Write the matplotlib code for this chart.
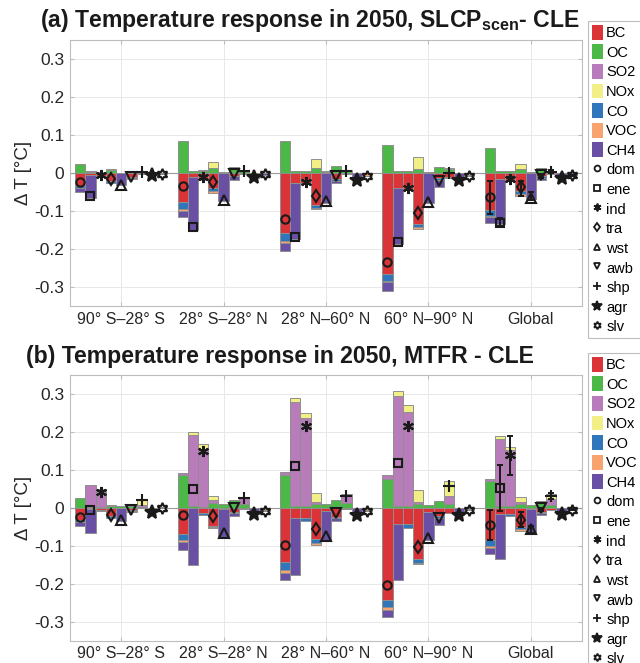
import numpy as np
import matplotlib
matplotlib.use("Agg")
import matplotlib.pyplot as plt
from matplotlib.patches import Patch
from matplotlib.lines import Line2D

plt.rcParams["font.family"] = ["Liberation Sans", "DejaVu Sans"]
plt.rcParams["mathtext.fontset"] = "custom"
plt.rcParams["mathtext.rm"] = "Liberation Sans"
plt.rcParams["mathtext.bf"] = "Liberation Sans:bold"

regions = ["90\u00b0 S\u201328\u00b0 S", "28\u00b0 S\u201328\u00b0 N",
           "28\u00b0 N\u201360\u00b0 N", "60\u00b0 N\u201390\u00b0 N", "Global"]
sectors = ["dom", "ene", "ind", "tra", "wst", "awb", "shp", "agr", "slv"]
species = ["BC", "OC", "SO2", "NOx", "CO", "VOC", "CH4"]
colors = ["#da3438", "#4cb848", "#b97cba", "#f2ef86", "#2f76bb", "#f7a46f", "#6a50a4"]

# panel (a): SLCPscen - CLE, rows = regions, columns = sectors
a_bc = [[-0.035, -0.004, -0.008, -0.022, 0, -0.010, -0.001, 0, -0.001],
        [-0.075, -0.010, -0.016, -0.039, 0, -0.007, -0.002, 0, 0],
        [-0.159, -0.025, -0.026, -0.083, 0, -0.017, -0.003, 0, 0],
        [-0.265, -0.040, -0.042, -0.134, 0, -0.014, -0.010, 0, 0],
        [-0.097, -0.015, -0.020, -0.048, 0, -0.009, -0.003, 0, 0]]
a_oc = [[0.025, 0.003, 0.003, 0.007, 0.001, 0.005, 0.002, 0, 0.001],
        [0.083, 0.006, 0.004, 0.013, 0.002, 0.015, 0.004, 0.001, 0.001],
        [0.084, 0.006, 0.004, 0.012, 0.003, 0.018, 0.009, 0, 0],
        [0.075, 0.006, 0.005, 0.011, 0.002, 0.017, 0.010, 0, 0],
        [0.067, 0.004, 0.004, 0.010, 0.003, 0.013, 0.005, 0, 0]]
a_so2 = [[0, 0.003, 0, 0, 0, 0, 0, 0, 0],
         [0, 0, 0.003, 0, 0, 0, 0, 0, 0],
         [0, 0, 0, 0, 0.003, 0, 0, 0, 0],
         [0, 0, 0, 0, 0, 0, 0, 0, 0],
         [0, 0, 0.002, 0, 0, 0, 0, 0, 0]]
a_nox = [[0, 0, 0, 0.003, 0, 0, 0.002, 0, 0],
         [0, 0, 0, 0.016, 0, 0, 0.002, 0, 0],
         [0, 0, 0, 0.024, 0, 0, 0, 0, 0],
         [0, 0, 0, 0.031, 0, 0, 0.002, 0, 0],
         [0, 0, 0, 0.015, 0, 0, 0.001, 0, 0]]
a_co = [[-0.004, 0, -0.001, -0.003, 0, -0.002, 0, 0, 0],
        [-0.020, 0, -0.002, -0.009, 0, -0.002, 0, 0, 0],
        [-0.019, 0, -0.001, -0.009, 0, -0.003, 0, 0, 0],
        [-0.018, 0, -0.002, -0.009, 0, -0.004, -0.002, 0, 0],
        [-0.015, 0, -0.002, -0.008, 0, -0.003, 0, 0, 0]]
a_voc = [[0, 0, 0, -0.001, 0, 0, 0, 0, -0.001],
         [-0.004, 0, 0, -0.004, 0, 0, 0, 0, -0.001],
         [-0.007, 0, 0, -0.004, 0, 0, 0, 0, -0.007],
         [-0.005, 0, 0, -0.005, 0, 0, 0, 0, -0.006],
         [-0.004, 0, 0, -0.005, 0, 0, 0, 0, -0.004]]
a_ch4 = [[-0.010, -0.062, 0, 0, -0.032, -0.003, -0.001, -0.004, -0.001],
         [-0.017, -0.139, 0, 0, -0.074, -0.009, 0, -0.012, -0.003],
         [-0.019, -0.149, 0, 0, -0.080, -0.006, 0, -0.018, 0],
         [-0.022, -0.147, 0, 0, -0.078, -0.020, 0, -0.019, -0.003],
         [-0.015, -0.120, 0, 0, -0.068, -0.007, 0, -0.014, -0.002]]
a_glob_lo = [-0.107, -0.140, -0.021, -0.061, -0.070, -0.013, -0.001, -0.017, -0.008]
a_glob_hi = [-0.021, -0.118, -0.011, -0.022, -0.050, -0.003, 0.007, -0.011, -0.004]

# panel (b): MTFR - CLE
b_bc = [[-0.032, -0.003, -0.006, -0.023, 0, -0.007, -0.002, 0, 0],
        [-0.068, -0.002, -0.013, -0.047, -0.003, -0.010, -0.003, 0, 0],
        [-0.143, -0.026, -0.026, -0.083, -0.009, -0.024, -0.004, 0, 0],
        [-0.244, -0.044, -0.044, -0.136, -0.011, -0.022, -0.013, 0, 0],
        [-0.086, -0.016, -0.016, -0.051, -0.004, -0.011, -0.005, 0, 0]]
b_oc = [[0.025, 0.003, 0.003, 0.004, 0.004, 0.005, 0.002, 0, 0],
        [0.085, 0.004, 0.003, 0.013, 0.010, 0.019, 0.010, 0, 0],
        [0.086, 0.004, 0.004, 0.009, 0.009, 0.021, 0.012, 0, 0],
        [0.076, 0.004, 0.004, 0.009, 0.007, 0.018, 0.009, 0, 0],
        [0.069, 0.004, 0.004, 0.009, 0.008, 0.018, 0.006, 0, 0]]
b_so2 = [[0, 0.058, 0.046, 0, 0, 0, 0.004, 0, 0.001],
         [0.006, 0.187, 0.152, 0.006, 0, 0, 0.016, 0, 0],
         [0.008, 0.274, 0.231, 0.007, 0, 0, 0.022, 0, 0],
         [0.009, 0.289, 0.247, 0.007, 0, 0, 0.022, 0, 0],
         [0.006, 0.178, 0.147, 0.006, 0, 0, 0.018, 0, 0]]
b_nox = [[0, 0, 0.001, 0.004, 0, 0, 0.017, 0, 0],
         [0, 0.009, 0.013, 0.013, 0, 0, 0.002, 0, 0],
         [0, 0.010, 0.015, 0.024, 0, 0, 0.002, 0, 0],
         [0, 0.015, 0.018, 0.030, 0, 0, 0.039, 0, 0],
         [0, 0.006, 0.010, 0.013, 0, 0, 0.013, 0, 0]]
b_co = [[-0.006, 0, -0.003, -0.004, 0, -0.001, 0, 0, 0],
        [-0.016, 0, -0.005, -0.004, 0, -0.004, 0, 0, 0],
        [-0.021, 0, -0.009, -0.010, 0, -0.004, 0, 0, 0],
        [-0.018, 0, -0.009, -0.009, 0, -0.006, 0, 0, 0],
        [-0.015, 0, -0.007, -0.006, 0, -0.003, 0, 0, 0]]
b_voc = [[0, 0, 0, 0, 0, 0, 0, 0, -0.002],
         [-0.006, 0, -0.002, -0.003, 0, 0, 0, 0, -0.006],
         [-0.009, 0, 0, -0.004, 0, 0, 0, 0, -0.006],
         [-0.008, 0, 0, -0.004, 0, 0, 0, 0, -0.004],
         [-0.005, 0, 0, -0.004, 0, 0, 0, 0, -0.004]]
b_ch4 = [[-0.011, -0.063, 0, 0, -0.036, -0.003, 0, -0.010, 0],
         [-0.020, -0.150, 0, 0, -0.073, -0.007, 0, -0.016, -0.003],
         [-0.018, -0.151, 0, 0, -0.075, -0.007, 0, -0.018, -0.003],
         [-0.018, -0.147, 0, 0, -0.075, -0.018, 0, -0.018, -0.002],
         [-0.015, -0.120, 0, 0, -0.061, -0.006, 0, -0.017, -0.001]]
b_glob_lo = [-0.084, -0.009, 0.085, -0.051, -0.066, -0.008, 0.024, -0.019, -0.007]
b_glob_hi = [-0.007, 0.113, 0.189, -0.010, -0.048, -0.001, 0.038, -0.013, -0.003]

titles = ["(a) Temperature response in 2050, SLCP$_{\\mathregular{scen}}$- CLE",
          "(b) Temperature response in 2050, MTFR - CLE"]

# marker style per sector: (marker, filled, size)
mstyle = [("o", False, 6), ("s", False, 5.5), ((6, 2, 0), False, 8), ("d", False, 6.5),
          ("^", False, 7), ("v", False, 7), ("+", False, 9), ("*", True, 10),
          ((6, 1, 0), False, 8)]

EDGE = "#8f8f8f"
GRAY = "#bdbdbd"


def draw_panel(ax, stacks, glob_lo, glob_hi):
    stacks = [np.array(s) for s in stacks]
    xc = np.arange(1, len(regions) + 1)
    w = 0.1
    for s in range(len(sectors)):
        x = xc + (s - 4) * w
        pos = np.zeros(len(regions))
        neg = np.zeros(len(regions))
        for k, arr in enumerate(stacks):
            v = arr[:, s]
            base = np.where(v >= 0, pos, neg)
            m = v != 0
            ax.bar(x[m], v[m], w, bottom=base[m], color=colors[k],
                   edgecolor=EDGE, linewidth=0.7, zorder=2)
            pos += np.clip(v, 0, None)
            neg += np.clip(v, None, 0)
        net = pos + neg
        # uncertainty range on the global total
        ax.errorbar(x[-1], net[-1], yerr=[[net[-1] - glob_lo[s]], [glob_hi[s] - net[-1]]],
                    fmt="none", ecolor="#1a1a1a", elinewidth=1.4, capsize=2.5,
                    capthick=1.4, zorder=4)
        mk, filled, ms = mstyle[s]
        ax.plot(x, net, ls="none", marker=mk, ms=ms, mew=1.5,
                mec="#1a1a1a", mfc="#1a1a1a" if filled else "none", zorder=5)

    ax.axhline(0, color="#9a9a9a", lw=0.8, zorder=1.5)
    ax.set_xlim(0.5, 5.5)
    ax.set_ylim(-0.35, 0.35)
    ax.set_xticks(xc)
    ax.set_xticklabels(regions, fontsize=11.5)
    ax.set_yticks(np.arange(-0.3, 0.31, 0.1))
    ax.set_yticklabels(["-0.3", "-0.2", "-0.1", "0", "0.1", "0.2", "0.3"], fontsize=12.5)
    ax.set_ylabel("\u0394 T [\u00b0C]", fontsize=13.5, color="#262626", labelpad=2)
    ax.grid(True, color="#e8e8e8", lw=0.7, zorder=0)
    ax.set_axisbelow(True)
    ax.tick_params(direction="in", length=3, color=GRAY, labelcolor="#262626",
                   top=True, right=True, pad=4)
    for sp in ax.spines.values():
        sp.set_color(GRAY)
        sp.set_linewidth(0.8)


def legend_handles():
    hs = [Patch(facecolor=c, edgecolor="none", label=n) for c, n in zip(colors, species)]
    for (mk, filled, ms), n in zip(mstyle, sectors):
        hs.append(Line2D([], [], ls="none", marker=mk, ms=ms * 0.7, mew=1.3,
                         mec="#1a1a1a", mfc="#1a1a1a" if filled else "none", label=n))
    return hs


fig = plt.figure(figsize=(6.4, 6.63), dpi=100)
H = 663.0
panels = [
    (40.0, [a_bc, a_oc, a_so2, a_nox, a_co, a_voc, a_ch4], a_glob_lo, a_glob_hi, 20, 310, 21),
    (374.7, [b_bc, b_oc, b_so2, b_nox, b_co, b_voc, b_ch4], b_glob_lo, b_glob_hi, 357, 280, 353),
]
for i, (top, stacks, lo, hi, ty, tx, ly) in enumerate(panels):
    ax = fig.add_axes([70 / 640, 1 - (top + 266) / H, 512 / 640, 266 / H])
    draw_panel(ax, stacks, lo, hi)
    fig.text(tx / 640, 1 - ty / H, titles[i], fontsize=16.6, fontweight="bold",
             ha="center", va="center", color="#1a1a1a")
    leg = ax.legend(handles=legend_handles(), loc="upper left",
                    bbox_to_anchor=(588 / 640, 1 - ly / H), bbox_transform=fig.transFigure,
                    fontsize=10.5, frameon=True, fancybox=False, framealpha=1,
                    handlelength=0.8, handleheight=1.2, handletextpad=0.2,
                    labelspacing=0.29, borderpad=0.25, borderaxespad=0)
    leg.get_frame().set_edgecolor(GRAY)
    leg.get_frame().set_linewidth(0.8)

fig.savefig("out.png", dpi=100)
